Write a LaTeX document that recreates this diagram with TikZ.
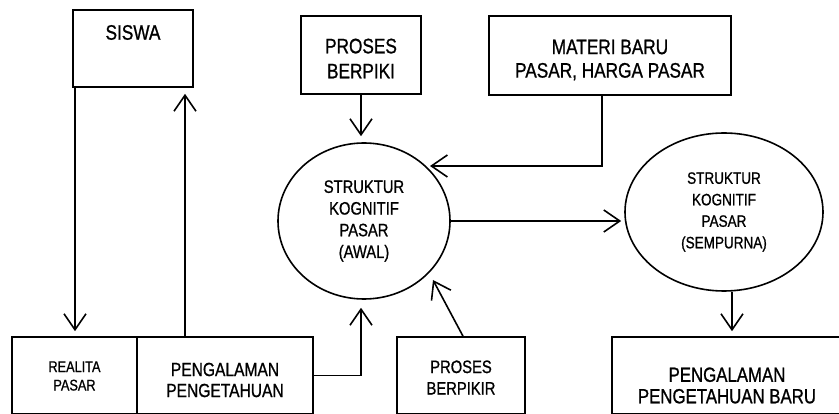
\documentclass[tikz,border=0pt]{standalone}
\usepackage{fontspec}
\setmainfont{Liberation Sans}[FakeStretch=0.82,FakeBold=0.9]
\usetikzlibrary{arrows.meta,shapes.geometric}
\begin{document}
\begin{tikzpicture}[x=1pt,y=-1pt,line width=1.6pt,
  box/.style={draw,rectangle,inner sep=0pt},
  oval/.style={draw,ellipse,inner sep=0pt,align=center},
  txt/.style={inner sep=0pt,align=center},
  arr/.style={-{Straight Barb[length=16pt,width=22pt,line width=1.6pt]}}]
\useasboundingbox (0,0) rectangle (839,414);
% top boxes
\node[box,minimum width=120pt,minimum height=77pt] (siswa) at (133,48.5) {};
\node[txt,font=\fontsize{21}{25}\selectfont] (siswaT) at (133,32.5) {SISWA};
\node[box,minimum width=120pt,minimum height=78pt] (berpiki) at (361,55) {};
\node[txt,font=\fontsize{21}{25}\selectfont] (berpikiT) at (361,58.5) {PROSES\\BERPIKI};
\node[box,minimum width=242pt,minimum height=79pt] (materi) at (610,55.5) {};
\node[txt,font=\fontsize{21}{23.5}\selectfont] (materiT) at (610,60) {MATERI BARU\\PASAR, HARGA PASAR};
% ellipses
\node[oval,minimum width=172pt,minimum height=156pt,font=\fontsize{18}{21.7}\selectfont] (ell1) at (364,221) {STRUKTUR\\KOGNITIF\\PASAR\\(AWAL)};
\node[oval,minimum width=198pt,minimum height=158pt,font=\fontsize{16.5}{21.5}\selectfont] (ell2) at (724,212) {STRUKTUR\\KOGNITIF\\PASAR\\(SEMPURNA)};
% bottom boxes
\node[box,minimum width=125pt,minimum height=77pt] (realita) at (74.5,375.5) {};
\node[txt,font=\fontsize{15.5}{18.5}\selectfont] (realitaT) at (74.5,376) {REALITA\\PASAR};
\node[box,minimum width=176pt,minimum height=77pt] (peng) at (225,375.5) {};
\node[txt,font=\fontsize{19}{21}\selectfont] (pengT) at (225,380) {PENGALAMAN\\PENGETAHUAN};
\node[box,minimum width=128pt,minimum height=77pt] (berpikir) at (461,375.5) {};
\node[txt,font=\fontsize{18}{21.5}\selectfont] (berpikirT) at (461,377.5) {PROSES\\BERPIKIR};
\node[box,minimum width=228pt,minimum height=77pt] (baru) at (726,375.5) {};
\node[txt,font=\fontsize{20.5}{21.5}\selectfont] (baruT) at (727,385.5) {PENGALAMAN\\PENGETAHUAN BARU};
% free ends
\coordinate (mEnd) at (430,166);
\coordinate (bEnd) at (433,280);
% connectors
\draw[arr,shorten >=5pt] ([xshift=0.5pt]realita.north |- siswa.south) -- ([xshift=0.5pt]realita.north);
\draw[arr,shorten >=6pt] ([xshift=-40pt]peng.north) -- ([xshift=-40pt]peng.north |- siswa.south);
\draw[arr,shorten >=8pt] (peng.east) -| ([xshift=-3pt]ell1.south);
\draw[arr,shorten >=6pt] (berpiki.south) -- (berpiki.south |- ell1.north);
\draw[arr] ([xshift=-8pt]materi.south) |- (mEnd);
\draw[arr,shorten >=3pt] (ell1.east) -- (ell1.east -| ell2.west);
\draw[arr,shorten >=5pt] ([xshift=8pt]ell2.south) -- ([xshift=8pt]ell2.south |- baru.north);
\draw[arr] ([xshift=2pt]berpikir.north) -- (bEnd);
\end{tikzpicture}
\end{document}
